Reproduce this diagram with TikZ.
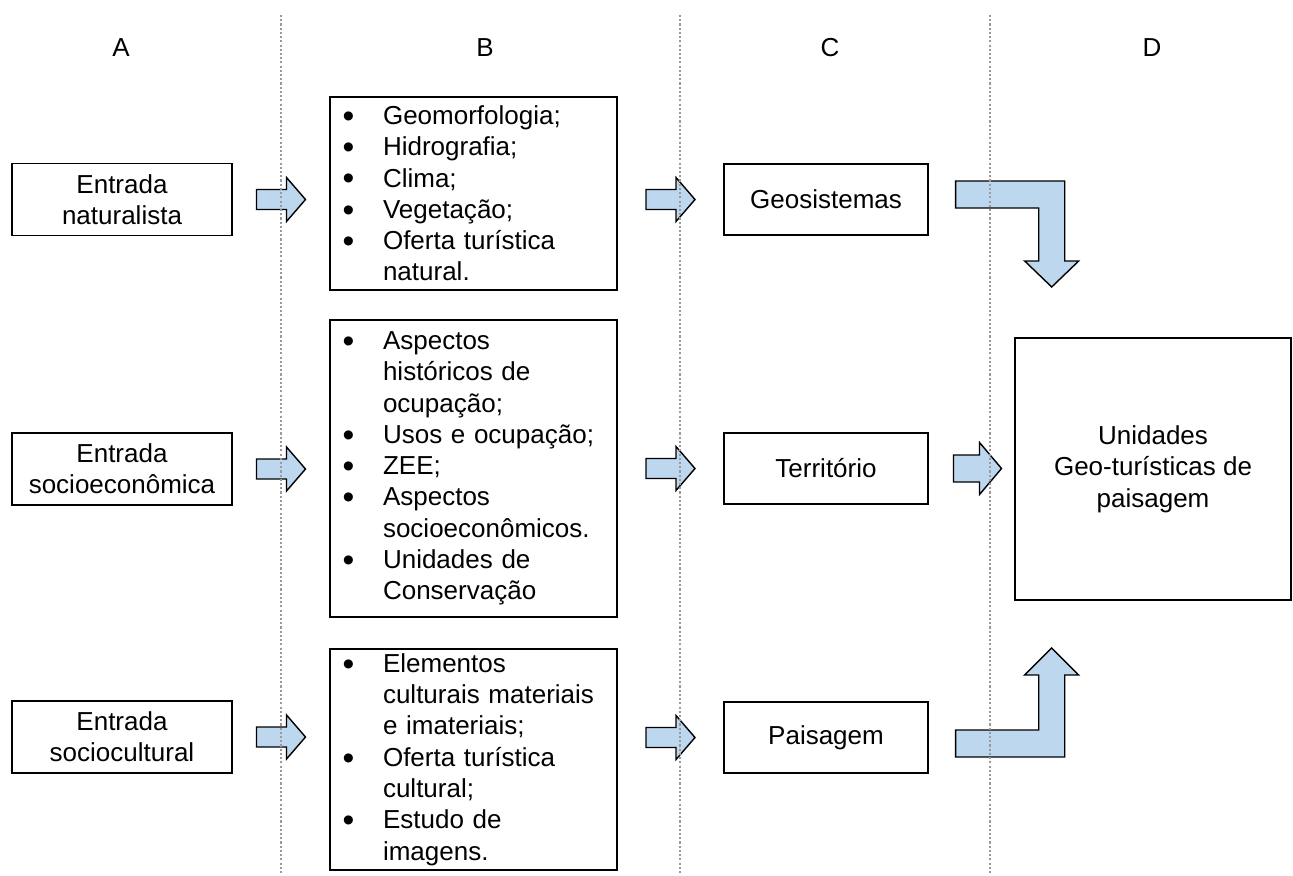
\documentclass[tikz,border=0pt]{standalone}
\usepackage{fontspec}
\setmainfont{Liberation Sans}
\usetikzlibrary{calc}

\definecolor{azulclaro}{RGB}{189,215,238}
\newcommand{\marca}{\makebox[0.86cm][l]{\hspace{0.05cm}\raisebox{-1.6pt}{\fontsize{19}{17.8}\selectfont\textbullet}}}
\newcommand{\recuo}{\hspace*{0.86cm}}
\newcommand{\seta}[1]{\draw[bloco] ($(#1)+(-24.5,-10)$) -- ++(30,0) -- ++(0,-12) -- ++(19,22) -- ++(-19,22) -- ++(0,-12) -- ++(-30,0) -- cycle;}
\newcommand{\setagrande}[1]{\draw[bloco] ($(#1)+(-24,-13.5)$) -- ++(26,0) -- ++(0,-12.5) -- ++(22,26) -- ++(-22,26) -- ++(0,-12.5) -- ++(-26,0) -- cycle;}

\begin{document}
\begin{tikzpicture}[x=0.02cm, y=-0.02cm,
    every node/.style={font=\fontsize{14.8}{17.8}\selectfont},
    caixa/.style={draw, line width=0.8pt, align=center, inner sep=0pt},
    lista/.style={draw, line width=0.8pt, align=left, inner xsep=0.2cm, inner ysep=0pt, text width=5.34cm},
    bloco/.style={draw=black, line width=0.8pt, fill=azulclaro, line join=miter},
    divisa/.style={gray!80, line width=0.6pt, dash pattern=on 1.2pt off 1.2pt}]
    \useasboundingbox (0,0) rectangle (1293,875);
    % column titles
    \node (tA) at (121,48) {A};
    \node (tB) at (485,48) {B};
    \node (tC) at (830,48) {C};
    \node (tD) at (1152,48) {D};
    % column A
    \node[caixa, minimum width=4.4cm, minimum height=1.44cm] (a1) at (122,199.5) {Entrada\\naturalista};
    \node[caixa, minimum width=4.4cm, minimum height=1.44cm] (a2) at (122,469) {Entrada\\socioeconômica};
    \node[caixa, minimum width=4.4cm, minimum height=1.44cm] (a3) at (122,737) {Entrada\\sociocultural};
    % column B
    \node[lista, minimum height=3.86cm] (b1) at (473.5,193.5) {\marca Geomorfologia;\\ \marca Hidrografia;\\ \marca Clima;\\ \marca Vegetação;\\ \marca Oferta turística\\ \recuo natural.};
    \node[lista, minimum height=5.94cm] (b2) at (473.5,468.5) {\marca Aspectos\\ \recuo históricos de\\ \recuo ocupação;\\ \marca Usos e ocupação;\\ \marca ZEE;\\ \marca Aspectos\\ \recuo socioeconômicos.\\ \marca Unidades de\\ \recuo Conservação};
    \node[lista, minimum height=4.42cm] (b3) at (473.5,759.5) {\marca Elementos\\ \recuo culturais materiais\\ \recuo e imateriais;\\ \marca Oferta turística\\ \recuo cultural;\\ \marca Estudo de\\ \recuo imagens.};
    % column C
    \node[caixa, minimum width=4.08cm, minimum height=1.42cm] (c1) at (826,199.5) {Geosistemas};
    \node[caixa, minimum width=4.08cm, minimum height=1.42cm] (c2) at (826,468.5) {Território};
    \node[caixa, minimum width=4.08cm, minimum height=1.42cm] (c3) at (826,737.5) {Paisagem};
    % column D
    \node[caixa, minimum width=5.52cm, minimum height=5.24cm] (d) at (1153,469) {Unidades\\Geo-turísticas de\\paisagem};
    % block arrows
    \coordinate (ab1) at ($(a1.east)!0.5!(b1.west |- a1.east)$);
    \coordinate (ab2) at ($(a2.east)!0.5!(b2.west |- a2.east)$);
    \coordinate (ab3) at ($(a3.east)!0.5!(b3.west |- a3.east)$);
    \coordinate (bc1) at ($(b1.east |- c1.west)!0.5!(c1.west)$);
    \coordinate (bc2) at ($(b2.east |- c2.west)!0.5!(c2.west)$);
    \coordinate (bc3) at ($(b3.east |- c3.west)!0.5!(c3.west)$);
    \coordinate (cd) at ($(c2.east)!0.5!(d.west |- c2.east)+(6,0)$);
    \seta{ab1} \seta{ab2} \seta{ab3}
    \seta{bc1} \seta{bc2} \seta{bc3}
    \setagrande{cd}
    \draw[bloco] ($(c1.east)+(27,-18.5)$) -- ++(109,0) -- ++(0,80) -- ++(14,0) -- ++(-27,26) -- ++(-27,-26) -- ++(14,0) -- ++(0,-53) -- ++(-83,0) -- cycle; % down into D
    \draw[bloco] ($(c3.east)+(27,19.5)$) -- ++(109,0) -- ++(0,-82) -- ++(14,0) -- ++(-27,-27) -- ++(-27,27) -- ++(14,0) -- ++(0,55) -- ++(-83,0) -- cycle; % up into D
    % column dividers
    \foreach \x in {281,680,990} \draw[divisa] (\x,15) -- (\x,875);
\end{tikzpicture}
\end{document}
